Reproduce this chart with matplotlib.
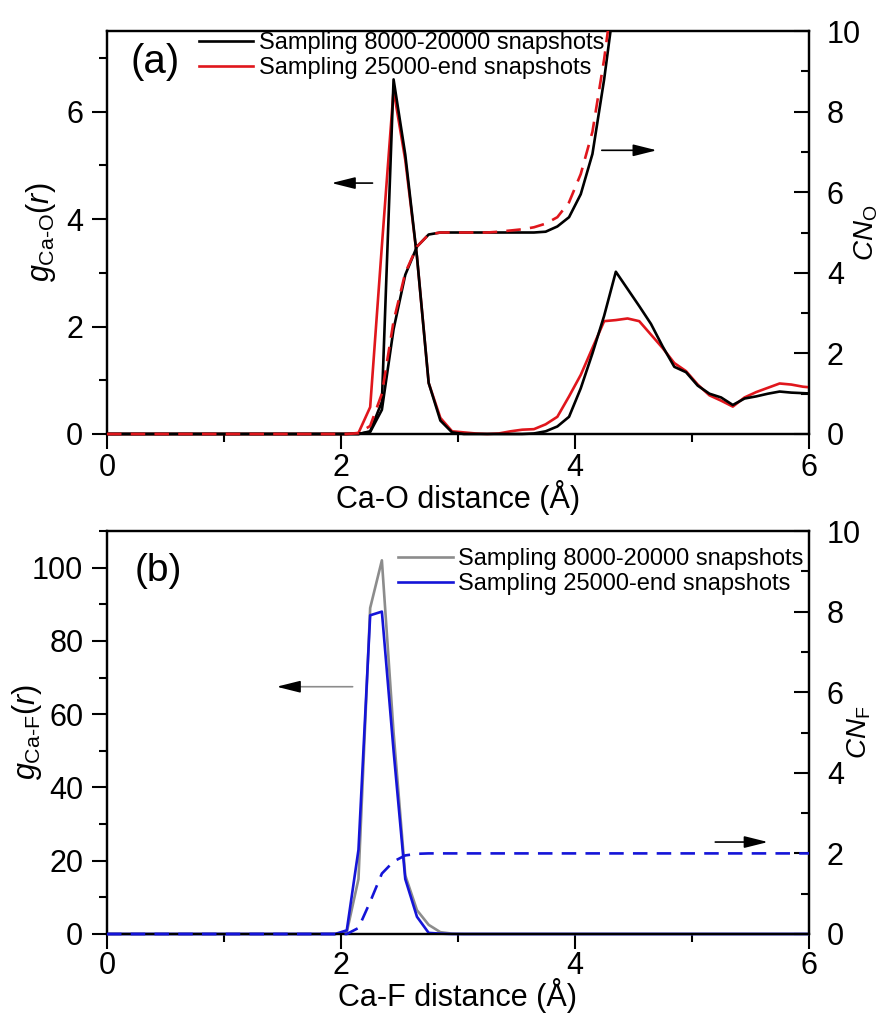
import numpy as np
import matplotlib
matplotlib.use("Agg")
import matplotlib.pyplot as plt
from matplotlib.transforms import Bbox, TransformedBbox
from matplotlib.ticker import MultipleLocator

plt.rcParams['font.family'] = ['Liberation Sans', 'DejaVu Sans']
plt.rcParams['mathtext.fontset'] = 'custom'
plt.rcParams['mathtext.rm'] = 'Liberation Sans'
plt.rcParams['mathtext.it'] = 'Liberation Sans:italic'
plt.rcParams['mathtext.bf'] = 'Liberation Sans:bold'

# ---------------- data ----------------
# radial grid (Angstrom)
r = np.concatenate([[0.0], np.arange(0.05, 6.1, 0.1)])   # 0.0, 0.05 ... 6.05
n_zero_O = 22   # points before 2.15
n_zero_F = 21   # points before 2.05

legend_labels_a = ["Sampling 8000-20000 snapshots", "Sampling 25000-end snapshots"]
legend_labels_b = ["Sampling 8000-20000 snapshots", "Sampling 25000-end snapshots"]

# (a) Ca-O, values from r = 2.15 onward
g_CaO_early = [0.0]*n_zero_O + [
    0.0, 0.05, 0.6, 6.6, 5.2, 3.3, 0.95, 0.25, 0.03,
    0.0, 0.0, 0.0, 0.0, 0.0, 0.0, 0.01, 0.05, 0.14, 0.32,
    0.85, 1.5, 2.2, 3.02, 2.7, 2.38, 2.05, 1.63, 1.25, 1.15,
    0.9, 0.75, 0.68, 0.54, 0.66, 0.7, 0.75, 0.79, 0.77, 0.76,
    0.75]
g_CaO_late = [0.0]*n_zero_O + [
    0.02, 0.5, 3.5, 6.4, 5.1, 3.3, 0.95, 0.3, 0.05,
    0.03, 0.01, 0.0, 0.01, 0.05, 0.08, 0.09, 0.18, 0.32, 0.7,
    1.1, 1.6, 2.1, 2.12, 2.15, 2.1, 1.85, 1.6, 1.32, 1.17,
    0.92, 0.72, 0.62, 0.51, 0.68, 0.78, 0.86, 0.94, 0.92, 0.88,
    0.86]
CN_O_early = [0.0]*n_zero_O + [
    0.0, 0.05, 0.6, 2.6, 3.95, 4.65, 4.95, 5.0, 5.0,
    5.0, 5.0, 5.0, 5.0, 5.0, 5.0, 5.0, 5.02, 5.15, 5.38,
    5.95, 6.95, 8.8, 11.0]
CN_O_late = [0.0]*n_zero_O + [
    0.02, 0.2, 1.0, 2.8, 4.0, 4.65, 4.95, 5.0, 5.0,
    5.0, 5.0, 5.0, 5.02, 5.05, 5.08, 5.13, 5.22, 5.38, 5.75,
    6.45, 7.5, 9.3, 11.5]

# (b) Ca-F, values from r = 2.05 onward
g_CaF_early = [0.0]*n_zero_F + [
    0.5, 15.0, 89.0, 102.0, 55.0, 16.0, 6.5, 2.5, 0.5, 0.1,
    0.0] + [0.0]*30
g_CaF_late = [0.0]*n_zero_F + [
    1.0, 23.0, 87.0, 88.0, 50.0, 15.0, 4.7, 0.3, 0.1, 0.0,
    0.0] + [0.0]*30
CN_F_late = [0.0]*n_zero_F + [
    0.0, 0.15, 0.8, 1.5, 1.8, 1.95, 1.99, 2.0, 2.0, 2.0,
    2.0] + [2.0]*30

# ---------------- style ----------------
TICK_FS = 22
LAB_FS = 22
LEG_FS = 17
LW = 1.9
RED = '#e0161c'
BLUE = '#1414d8'
GRAY = '#8c8c8c'

fig = plt.figure(figsize=(8.84, 10.14), dpi=100)
axA = fig.add_axes([0.121, 0.572, 0.794, 0.3974])
axB = fig.add_axes([0.121, 0.0789, 0.794, 0.3974])


def style_axes(ax, ax2, ymax, ymaj, ymin, xpad):
    ax.set_xlim(0, 6)
    ax.set_ylim(0, ymax)
    ax2.set_ylim(0, 10)
    ax.xaxis.set_major_locator(MultipleLocator(2))
    ax.xaxis.set_minor_locator(MultipleLocator(1))
    ax.yaxis.set_major_locator(MultipleLocator(ymaj))
    ax.yaxis.set_minor_locator(MultipleLocator(ymin))
    ax2.yaxis.set_major_locator(MultipleLocator(2))
    ax2.yaxis.set_minor_locator(MultipleLocator(1))
    for a in (ax, ax2):
        for s in a.spines.values():
            s.set_linewidth(1.6)
    ax.tick_params(axis='both', which='major', direction='out', length=11,
                   width=1.5, labelsize=TICK_FS, top=False, right=False)
    ax.tick_params(axis='both', which='minor', direction='out', length=6,
                   width=1.5, top=False, right=False)
    ax.tick_params(axis='x', which='major', pad=xpad)
    ax.tick_params(axis='y', which='major', pad=6)
    ax2.tick_params(axis='y', which='major', direction='in', length=11,
                    width=1.5, labelsize=TICK_FS, pad=13)
    ax2.tick_params(axis='y', which='minor', direction='in', length=5.5,
                    width=1.5)


def clip(line, ax):
    line.set_clip_box(TransformedBbox(Bbox([[0, -0.012], [1, 1.0]]), ax.transAxes))


def arrow(ax, tail, head, color='k'):
    ax.annotate('', xy=head, xytext=tail, xycoords='data', textcoords='data',
                arrowprops=dict(arrowstyle='-|>,head_length=0.8,head_width=0.2',
                                mutation_scale=18, lw=1.2, color=color,
                                shrinkA=0, shrinkB=0))


# ---------------- panel (a) ----------------
axA2 = axA.twinx()
style_axes(axA, axA2, 7.5, 2, 1, 3)
l1, = axA.plot(r, g_CaO_late, color=RED, lw=LW, zorder=3)
l0, = axA.plot(r, g_CaO_early, color='k', lw=LW, zorder=3.1)
c0, = axA2.plot(r[:len(CN_O_early)], CN_O_early, color='k', lw=LW, zorder=3)
c1, = axA2.plot(r[:len(CN_O_late)], CN_O_late, color=RED, lw=LW, zorder=3.1,
                dashes=(5.5, 3.5))
for ln, a in ((l0, axA), (l1, axA), (c0, axA2), (c1, axA2)):
    clip(ln, a)

axA.legend([l0, l1], legend_labels_a, loc='upper left',
           bbox_to_anchor=(0.131, 0.998), frameon=False, fontsize=LEG_FS,
           handlelength=2.3, handletextpad=0.25, labelspacing=0.15,
           borderpad=0, borderaxespad=0)
axA.text(0.033, 0.923, '(a)', transform=axA.transAxes, fontsize=29,
         ha='left', va='center')
arrow(axA, (2.27, 4.67), (1.92, 4.67))
arrow(axA, (4.23, 5.28), (4.70, 5.28))

axA.set_xlabel('Ca-O distance (Å)', fontsize=LAB_FS)
axA.xaxis.set_label_coords(0.5, -0.115)
axA.set_ylabel(r'$g_{\mathrm{Ca\text{-}O}}(r)$', fontsize=LAB_FS)
axA.yaxis.set_label_coords(-0.07, 0.5)
axA2.set_ylabel(r'$CN_{\mathrm{O}}$', fontsize=20)
axA2.yaxis.set_label_coords(1.062, 0.5)

# ---------------- panel (b) ----------------
axB2 = axB.twinx()
style_axes(axB, axB2, 110, 20, 10, 1)
m0, = axB.plot(r, g_CaF_early, color=GRAY, lw=LW, zorder=3)
m1, = axB.plot(r, g_CaF_late, color=BLUE, lw=LW, zorder=3.1)
d1, = axB2.plot(r, CN_F_late, color=BLUE, lw=LW, zorder=3, dashes=(5.5, 3.5))
for ln, a in ((m0, axB), (m1, axB), (d1, axB2)):
    clip(ln, a)

axB.legend([m0, m1], legend_labels_b, loc='upper left',
           bbox_to_anchor=(0.415, 0.958), frameon=False, fontsize=LEG_FS,
           handlelength=2.3, handletextpad=0.25, labelspacing=0.15,
           borderpad=0, borderaxespad=0)
axB.text(0.04, 0.9, '(b)', transform=axB.transAxes, fontsize=28,
         ha='left', va='center')
# left arrow: gray shaft, black head
axB.annotate('', xy=(1.60, 67.5), xytext=(2.10, 67.5),
             arrowprops=dict(arrowstyle='-', lw=1.2, color=GRAY,
                             shrinkA=0, shrinkB=0))
arrow(axB, (1.63, 67.5), (1.45, 67.5))
arrow(axB, (5.2, 25.1), (5.65, 25.1))

axB.set_xlabel('Ca-F distance (Å)', fontsize=LAB_FS)
axB.xaxis.set_label_coords(0.5, -0.11)
axB.set_ylabel(r'$g_{\mathrm{Ca\text{-}F}}(r)$', fontsize=LAB_FS)
axB.yaxis.set_label_coords(-0.09, 0.5)
axB2.set_ylabel(r'$CN_{\mathrm{F}}$', fontsize=20)
axB2.yaxis.set_label_coords(1.052, 0.5)

fig.savefig('out.png', dpi=100)
